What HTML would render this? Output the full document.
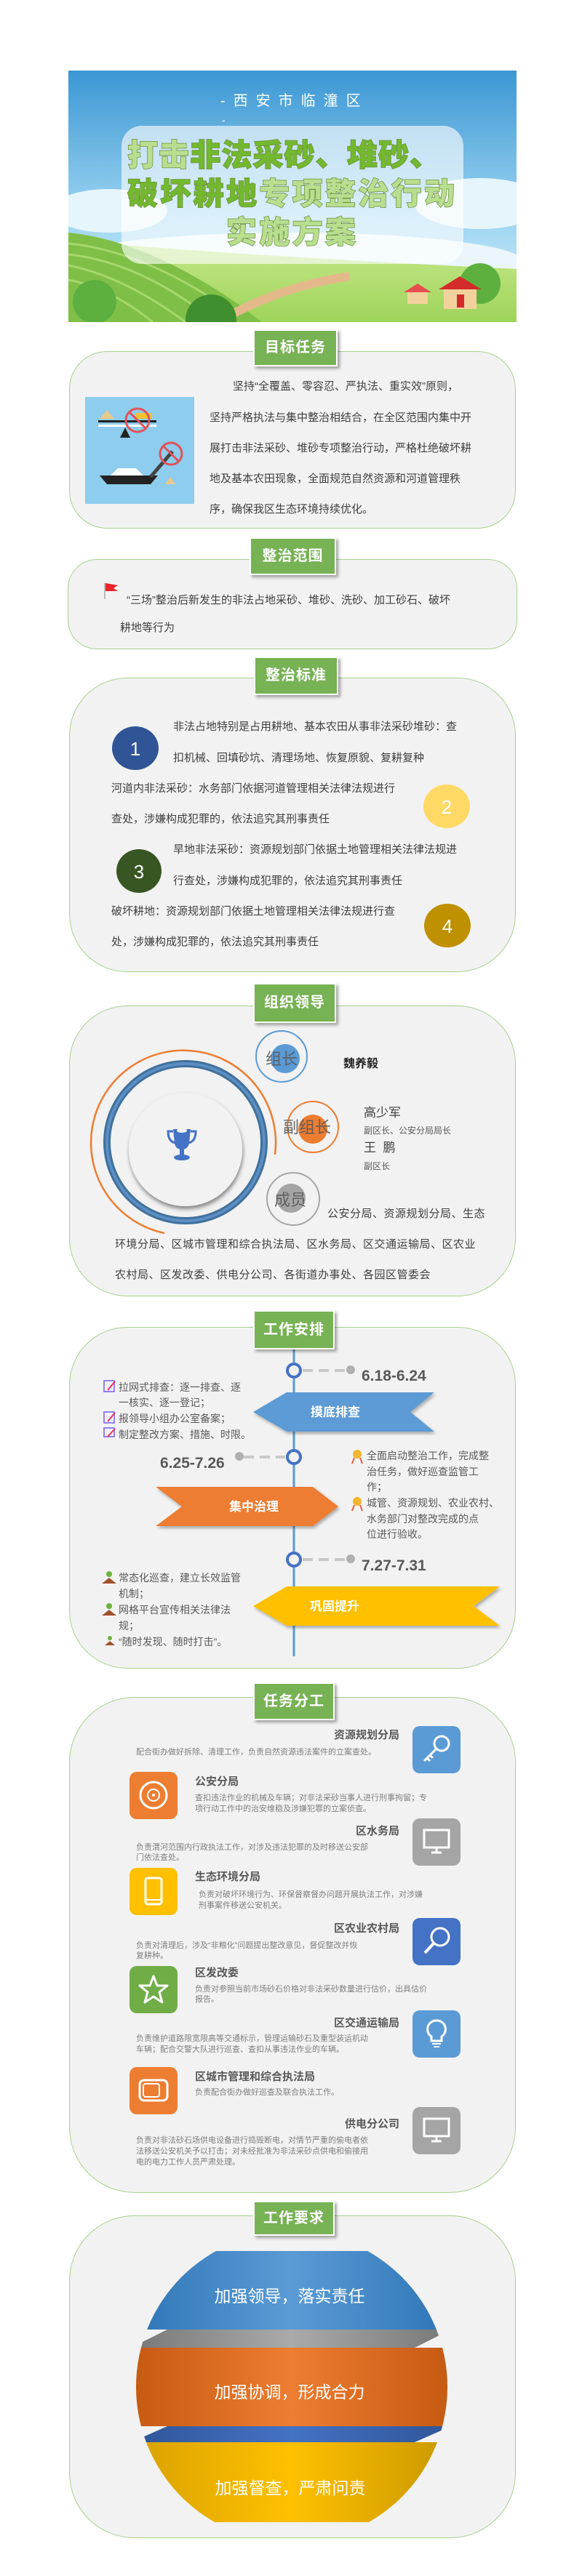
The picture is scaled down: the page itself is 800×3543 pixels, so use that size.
<!DOCTYPE html>
<html><head><meta charset="utf-8"><style>
*{margin:0;padding:0;box-sizing:border-box}
body{width:800px;height:3543px;background:#fff;position:relative;overflow:hidden;font-family:"Liberation Sans","Noto Sans CJK SC",sans-serif;color:#404040}
.a{position:absolute;white-space:nowrap}
.box{position:absolute;background:#f2f2f2;border:1.5px solid #a9d18e;border-radius:52px}
.hd{position:absolute;background:#77b255;border:2px solid #fff;box-shadow:3px 3px 4px rgba(0,0,0,.35);color:#fff;font-weight:bold;font-size:20px;text-align:center;letter-spacing:1px}
.t15{font-size:15px;line-height:20px}
.tl{font-size:14px;line-height:20px;color:#595959}
.tt{font-size:15px;font-weight:bold;color:#595959;line-height:20px}
.td{font-size:11px;color:#7f7f7f;line-height:14px}
.ic{position:absolute;width:66px;height:65px;border-radius:10px}
</style></head><body>

<!-- Banner -->
<svg class="a" style="left:94px;top:97px" width="616" height="346" viewBox="94 97 616 346">
<defs>
<linearGradient id="sky" x1="0" y1="0" x2="0" y2="1"><stop offset="0" stop-color="#3b97d4"/><stop offset=".6" stop-color="#9fd6f2"/><stop offset="1" stop-color="#d8f0fa"/></linearGradient>
<linearGradient id="gr" x1="0" y1="0" x2="0" y2="1"><stop offset="0" stop-color="#c5e88a"/><stop offset="1" stop-color="#9fd45a"/></linearGradient>
</defs>
<rect x="94" y="97" width="616" height="346" fill="url(#sky)"/>
<ellipse cx="150" cy="290" rx="80" ry="30" fill="#e6f5fb"/><ellipse cx="660" cy="280" rx="90" ry="35" fill="#e6f5fb"/>
<ellipse cx="400" cy="360" rx="320" ry="40" fill="#eaf6fb"/>
<path d="M94 330 Q300 350 710 370 L710 443 L94 443Z" fill="url(#gr)"/>
<path d="M94 320 Q200 330 330 420 L360 443 L94 443Z" fill="#7fbf48"/>
<g stroke="#a6d86c" stroke-width="3" fill="none"><path d="M94 335 Q200 345 320 430"/><path d="M94 350 Q190 360 290 438"/><path d="M94 365 Q170 380 255 443"/><path d="M94 385 Q150 395 210 443"/></g>
<path d="M300 443 Q380 395 480 380" stroke="#e3b98a" stroke-width="12" fill="none"/>
<circle cx="130" cy="415" r="30" fill="#5db040"/><circle cx="290" cy="440" r="35" fill="#3f8f2e"/>
<circle cx="660" cy="390" r="28" fill="#5db040"/>
<rect x="610" y="395" width="45" height="30" fill="#f2d29c"/><path d="M603 398 L632 380 L662 398Z" fill="#d42b2b"/><rect x="628" y="405" width="10" height="18" fill="#d42b2b"/>
<rect x="560" y="400" width="28" height="18" fill="#f2d29c"/><path d="M555 402 L574 390 L593 402Z" fill="#e85050"/>
<rect x="167" y="173" width="470" height="190" rx="28" fill="#fff" opacity=".62"/>
<text x="303" y="145" font-size="20" fill="#fff" letter-spacing="11" font-family="Liberation Sans,Noto Sans CJK SC,sans-serif">-西安市临潼区</text>
<text x="305" y="170" font-size="14" fill="#fff">-</text>
<g font-family="Noto Sans CJK SC,sans-serif" font-weight="900" font-size="42" stroke="#6f8f3f" stroke-width="1.5" paint-order="stroke">
<text x="175" y="228" textLength="430"><tspan fill="#b8de8f">打击</tspan><tspan fill="#73b82f">非法采砂、堆砂、</tspan></text>
<text x="175" y="281" textLength="450"><tspan fill="#73b82f">破坏耕地</tspan><tspan fill="#b8de8f">专项整治行动</tspan></text>
<text x="311" y="334" textLength="178" fill="#b8de8f">实施方案</text>
</g>
</svg>

<!-- 目标任务 -->
<div class="box" style="left:95px;top:483px;width:614px;height:244px"></div>
<div class="hd" style="left:348px;top:453px;width:116px;height:51px;line-height:47px">目标任务</div>
<svg class="a" style="left:117px;top:546px" width="150" height="147">
<rect width="150" height="147" fill="#8ecdee"/>
<path d="M20 30 L40 30 L30 18Z" fill="#e8c98a"/><rect x="18" y="32" width="80" height="3" fill="#222"/><rect x="18" y="38" width="80" height="3" fill="#fff"/>
<path d="M55 42 L48 56 L62 56Z" fill="#222"/><rect x="70" y="22" width="22" height="8" fill="#f2c230"/>
<circle cx="72" cy="32" r="16" fill="none" stroke="#e0525a" stroke-width="3"/><line x1="61" y1="21" x2="83" y2="43" stroke="#e0525a" stroke-width="3"/>
<path d="M20 108 L100 108 L90 120 L30 120Z" fill="#222"/><path d="M35 108 L45 98 L70 98 L80 108Z" fill="#fff"/>
<line x1="90" y1="110" x2="120" y2="75" stroke="#444" stroke-width="5"/>
<circle cx="118" cy="78" r="15" fill="none" stroke="#e0525a" stroke-width="3"/><line x1="108" y1="68" x2="128" y2="88" stroke="#e0525a" stroke-width="3"/>
<path d="M110 120 L124 120 L117 110Z" fill="#e8c98a"/>
</svg>
<div class="a t15" style="left:320px;top:522px">坚持“全覆盖、零容忍、严执法、重实效”原则，</div>
<div class="a t15" style="left:288px;top:565px">坚持严格执法与集中整治相结合，在全区范围内集中开</div>
<div class="a t15" style="left:288px;top:607px">展打击非法采砂、堆砂专项整治行动，严格杜绝破坏耕</div>
<div class="a t15" style="left:288px;top:649px">地及基本农田现象，全面规范自然资源和河道管理秩</div>
<div class="a t15" style="left:288px;top:691px">序，确保我区生态环境持续优化。</div>

<!-- 整治范围 -->
<div class="box" style="left:93px;top:769px;width:618px;height:124px;border-radius:40px"></div>
<div class="hd" style="left:343px;top:739px;width:119px;height:52px;line-height:48px">整治范围</div>
<svg class="a" style="left:140px;top:800px" width="26" height="26"><line x1="4" y1="2" x2="4" y2="24" stroke="#bbb" stroke-width="2"/><path d="M5 2 L22 5 L16 9 L22 13 L5 13Z" fill="#e8262b"/></svg>
<div class="a t15" style="left:174px;top:816px">“三场”整治后新发生的非法占地采砂、堆砂、洗砂、加工砂石、破坏</div>
<div class="a t15" style="left:165px;top:854px">耕地等行为</div>

<!-- 整治标准 -->
<div class="box" style="left:95px;top:932px;width:614px;height:405px;border-radius:80px"></div>
<div class="hd" style="left:349px;top:903px;width:116px;height:53px;line-height:49px">整治标准</div>
<svg class="a" style="left:0;top:0;overflow:visible" width="800" height="1400">
<g font-size="26" fill="#fff" text-anchor="middle" font-family="Liberation Sans,sans-serif">
<ellipse cx="186" cy="1029" rx="32" ry="30" fill="#2f5597"/><text x="186" y="1039">1</text>
<ellipse cx="614" cy="1109" rx="32" ry="30" fill="#ffd966"/><text x="614" y="1119">2</text>
<ellipse cx="191" cy="1198" rx="31" ry="30" fill="#375623"/><text x="191" y="1208">3</text>
<ellipse cx="615" cy="1273" rx="32" ry="30" fill="#bf9000"/><text x="615" y="1283">4</text>
</g></svg>
<div class="a t15" style="left:238px;top:990px">非法占地特别是占用耕地、基本农田从事非法采砂堆砂：查</div>
<div class="a t15" style="left:238px;top:1033px">扣机械、回填砂坑、清理场地、恢复原貌、复耕复种</div>
<div class="a t15" style="left:153px;top:1075px">河道内非法采砂：水务部门依据河道管理相关法律法规进行</div>
<div class="a t15" style="left:153px;top:1117px">查处，涉嫌构成犯罪的，依法追究其刑事责任</div>
<div class="a t15" style="left:238px;top:1159px">旱地非法采砂：资源规划部门依据土地管理相关法律法规进</div>
<div class="a t15" style="left:238px;top:1202px">行查处，涉嫌构成犯罪的，依法追究其刑事责任</div>
<div class="a t15" style="left:153px;top:1244px">破坏耕地：资源规划部门依据土地管理相关法律法规进行查</div>
<div class="a t15" style="left:153px;top:1286px">处，涉嫌构成犯罪的，依法追究其刑事责任</div>

<!-- 组织领导 -->
<div class="box" style="left:95px;top:1383px;width:614px;height:400px;border-radius:80px"></div>
<div class="hd" style="left:348px;top:1352px;width:114px;height:55px;line-height:51px">组织领导</div>
<svg class="a" style="left:0;top:1380px" width="800" height="400" viewBox="0 1380 800 400">
<defs><filter id="sh" x="-20%" y="-20%" width="140%" height="140%"><feDropShadow dx="1" dy="4" stdDeviation="3" flood-opacity=".45"/></filter></defs>
<path d="M378 1588 A127 127 0 1 0 226 1696" fill="none" stroke="#ed7d31" stroke-width="2.5"/>
<circle cx="255" cy="1571" r="108" fill="none" stroke="#41719c" stroke-width="10"/>
<circle cx="255" cy="1571" r="108" fill="none" stroke="#5b8fc4" stroke-width="4"/>
<circle cx="255" cy="1581" r="78" fill="#f2f2f2" filter="url(#sh)"/>
<g fill="#4472c4"><path d="M238 1553 h24 l-2 20 q-2 8 -10 8 q-8 0 -10 -8Z"/><rect x="247" y="1580" width="6" height="10"/><ellipse cx="250" cy="1592" rx="11" ry="4"/>
<path d="M238 1556 h-7 q0 14 10 16" fill="none" stroke="#4472c4" stroke-width="3"/><path d="M262 1556 h7 q0 14 -10 16" fill="none" stroke="#4472c4" stroke-width="3"/></g>
<ellipse cx="250" cy="1555" rx="7" ry="3" fill="#f2f2f2"/>
<circle cx="387" cy="1453" r="35" fill="none" stroke="#5b9bd5" stroke-width="2"/><circle cx="392" cy="1456" r="20" fill="#5b9bd5"/>
<circle cx="430" cy="1550" r="35" fill="none" stroke="#ed7d31" stroke-width="2"/><circle cx="430" cy="1553" r="20" fill="#ed7d31"/>
<circle cx="403" cy="1649" r="36" fill="none" stroke="#a5a5a5" stroke-width="2"/><circle cx="400" cy="1648" r="20" fill="#a5a5a5"/>
<g font-size="22" fill="#595959" fill-opacity=".9" font-family="Noto Sans CJK SC,sans-serif">
<text x="365" y="1464">组长</text><text x="389" y="1558">副组长</text><text x="377" y="1658">成员</text></g>
</svg>
<div class="a" style="left:472px;top:1454px;font-size:16px;font-weight:bold;color:#222;line-height:20px">魏养毅</div>
<div class="a" style="left:500px;top:1520px;font-size:17px;color:#404040;line-height:22px">高少军</div>
<div class="a" style="left:500px;top:1547px;font-size:12px;color:#595959;line-height:16px">副区长、公安分局局长</div>
<div class="a" style="left:500px;top:1568px;font-size:17px;color:#404040;line-height:22px">王&nbsp;&nbsp;鹏</div>
<div class="a" style="left:500px;top:1596px;font-size:12px;color:#595959;line-height:16px">副区长</div>
<div class="a t15" style="left:450px;top:1660px;letter-spacing:.5px">公安分局、资源规划分局、生态</div>
<div class="a t15" style="left:158px;top:1702px;letter-spacing:.5px">环境分局、区城市管理和综合执法局、区水务局、区交通运输局、区农业</div>
<div class="a t15" style="left:158px;top:1744px;letter-spacing:.5px">农村局、区发改委、供电分公司、各街道办事处、各园区管委会</div>

<!-- 工作安排 -->
<div class="box" style="left:95px;top:1825px;width:614px;height:470px;border-radius:80px"></div>
<svg class="a" style="left:0;top:1850px" width="800" height="440" viewBox="0 1850 800 440">
<defs><filter id="s2"><feDropShadow dx="2" dy="3" stdDeviation="2" flood-opacity=".3"/></filter></defs>
<line x1="404" y1="1850" x2="404" y2="2278" stroke="#5b9bd5" stroke-width="3"/>
<polygon points="348,1942 394,1915 597,1915 564,1942 597,1969 394,1969" fill="#5b9bd5" filter="url(#s2)"/>
<polygon points="214,2045 430,2045 465,2072 430,2099 214,2099 250,2072" fill="#ed7d31" filter="url(#s2)"/>
<polygon points="348,2209 394,2182 687,2182 651,2209 687,2236 394,2236" fill="#ffc000" filter="url(#s2)"/>
<g stroke="#c9c9c9" stroke-width="4" stroke-dasharray="14,8">
<line x1="416" y1="1885" x2="476" y2="1885"/><line x1="335" y1="2004" x2="392" y2="2004"/><line x1="416" y1="2145" x2="476" y2="2145"/></g>
<g fill="#b0b0b0"><circle cx="482" cy="1884" r="6"/><circle cx="329" cy="2003" r="6"/><circle cx="482" cy="2144" r="6"/></g>
<g fill="#f2f2f2" stroke="#4472c4" stroke-width="4"><circle cx="404" cy="1885" r="9"/><circle cx="404" cy="2004" r="9"/><circle cx="404" cy="2145" r="9"/></g>
<g font-size="17" font-weight="bold" fill="#fff" text-anchor="middle" font-family="Noto Sans CJK SC,sans-serif">
<text x="461" y="1948">摸底排查</text><text x="349" y="2078">集中治理</text><text x="460" y="2215">巩固提升</text></g>
<g font-size="21" font-weight="bold" fill="#595959" font-family="Liberation Sans,sans-serif">
<text x="497" y="1899">6.18-6.24</text><text x="220" y="2019">6.25-7.26</text><text x="497" y="2160">7.27-7.31</text></g>
<g fill="none" stroke="#7a5af0" stroke-width="1.5"><rect x="143" y="1899" width="14" height="15"/><rect x="143" y="1942" width="14" height="15"/><rect x="143" y="1964" width="14" height="12"/></g>
<g stroke="#e8336a" stroke-width="2"><line x1="148" y1="1912" x2="158" y2="1900"/><line x1="148" y1="1955" x2="158" y2="1943"/><line x1="148" y1="1976" x2="158" y2="1965"/></g>
<g><circle cx="491" cy="2000" r="6" fill="#f2b630"/><circle cx="491" cy="2065" r="6" fill="#f2b630"/><path d="M487 2005 l-3 8 M495 2005 l3 8 M487 2070 l-3 8 M495 2070 l3 8" stroke="#e06040" stroke-width="2"/></g>
<g><path d="M140 2178 h20 l-10 -8Z M140 2222 h20 l-10 -8Z M144 2263 h14 l-7 -6Z" fill="#a0522d"/><circle cx="150" cy="2165" r="4" fill="#6cb33e"/><circle cx="150" cy="2209" r="4" fill="#6cb33e"/><circle cx="151" cy="2253" r="3" fill="#6cb33e"/></g>
</svg>
<div class="hd" style="left:348px;top:1802px;width:112px;height:54px;line-height:50px">工作安排</div>
<div class="a tl" style="left:163px;top:1898px">拉网式排查：逐一排查、逐</div>
<div class="a tl" style="left:163px;top:1919px">一核实、逐一登记；</div>
<div class="a tl" style="left:163px;top:1941px">报领导小组办公室备案；</div>
<div class="a tl" style="left:163px;top:1963px">制定整改方案、措施、时限。</div>
<div class="a tl" style="left:504px;top:1992px">全面启动整治工作，完成整</div>
<div class="a tl" style="left:504px;top:2014px">治任务，做好巡查监管工</div>
<div class="a tl" style="left:504px;top:2035px">作；</div>
<div class="a tl" style="left:504px;top:2057px">城管、资源规划、农业农村、</div>
<div class="a tl" style="left:504px;top:2079px">水务部门对整改完成的点</div>
<div class="a tl" style="left:504px;top:2100px">位进行验收。</div>
<div class="a tl" style="left:163px;top:2160px">常态化巡查，建立长效监管</div>
<div class="a tl" style="left:163px;top:2182px">机制；</div>
<div class="a tl" style="left:163px;top:2204px">网格平台宣传相关法律法</div>
<div class="a tl" style="left:163px;top:2226px">规；</div>
<div class="a tl" style="left:163px;top:2248px">“随时发现、随时打击”。</div>

<!-- 任务分工 -->
<div class="box" style="left:95px;top:2334px;width:614px;height:682px;border-radius:90px"></div>
<div class="hd" style="left:348px;top:2314px;width:112px;height:52px;line-height:48px">任务分工</div>

<div class="ic" style="left:567px;top:2374px;background:#5b9bd5"><svg width="66" height="65"><circle cx="40" cy="24" r="10" fill="none" stroke="#fff" stroke-width="3"/><path d="M33 31 L16 48 M20 44 l4 4 M24 40 l4 4" stroke="#fff" stroke-width="3"/></svg></div>
<div class="a tt" style="left:349px;top:2377px;width:200px;text-align:right">资源规划分局</div>
<div class="a td" style="left:187px;top:2403px">配合街办做好拆除、清理工作，负责自然资源违法案件的立案查处。</div>

<div class="ic" style="left:178px;top:2437px;background:#ed7d31"><svg width="66" height="65"><circle cx="33" cy="32" r="18" fill="none" stroke="#fff" stroke-width="3"/><circle cx="33" cy="32" r="8" fill="none" stroke="#fff" stroke-width="2"/><circle cx="33" cy="32" r="2" fill="#fff"/></svg></div>
<div class="a tt" style="left:268px;top:2441px">公安分局</div>
<div class="a td" style="left:268px;top:2466px">查扣违法作业的机械及车辆；对非法采砂当事人进行刑事拘留；专</div>
<div class="a td" style="left:268px;top:2481px">项行动工作中的治安维稳及涉嫌犯罪的立案侦查。</div>

<div class="ic" style="left:567px;top:2501px;background:#a5a5a5"><svg width="66" height="65"><rect x="16" y="16" width="34" height="24" fill="none" stroke="#fff" stroke-width="3"/><path d="M26 47 h14 M33 40 v7" stroke="#fff" stroke-width="3"/></svg></div>
<div class="a tt" style="left:349px;top:2509px;width:200px;text-align:right">区水务局</div>
<div class="a td" style="left:187px;top:2534px">负责渭河范围内行政执法工作，对涉及违法犯罪的及时移送公安部</div>
<div class="a td" style="left:187px;top:2548px">门依法查处。</div>

<div class="ic" style="left:178px;top:2569px;background:#ffc000"><svg width="66" height="65"><rect x="22" y="14" width="22" height="36" rx="3" fill="none" stroke="#fff" stroke-width="3"/><line x1="22" y1="44" x2="44" y2="44" stroke="#fff" stroke-width="2"/></svg></div>
<div class="a tt" style="left:268px;top:2572px">生态环境分局</div>
<div class="a td" style="left:273px;top:2599px">负责对破坏环境行为、环保督察督办问题开展执法工作，对涉嫌</div>
<div class="a td" style="left:273px;top:2614px">刑事案件移送公安机关。</div>

<div class="ic" style="left:567px;top:2638px;background:#4472c4"><svg width="66" height="65"><circle cx="38" cy="26" r="12" fill="none" stroke="#fff" stroke-width="3"/><line x1="29" y1="35" x2="17" y2="48" stroke="#fff" stroke-width="4"/></svg></div>
<div class="a tt" style="left:349px;top:2643px;width:200px;text-align:right">区农业农村局</div>
<div class="a td" style="left:187px;top:2669px">负责对清理后，涉及“非粮化”问题提出整改意见，督促整改并恢</div>
<div class="a td" style="left:187px;top:2683px">复耕种。</div>

<div class="ic" style="left:178px;top:2704px;background:#70ad47"><svg width="66" height="65"><path d="M33 14 L38 27 L52 27 L41 36 L45 50 L33 42 L21 50 L25 36 L14 27 L28 27Z" fill="none" stroke="#fff" stroke-width="3" stroke-linejoin="round"/></svg></div>
<div class="a tt" style="left:268px;top:2704px">区发改委</div>
<div class="a td" style="left:268px;top:2729px">负责对参照当前市场砂石价格对非法采砂数量进行估价，出具估价</div>
<div class="a td" style="left:268px;top:2743px">报告。</div>

<div class="ic" style="left:567px;top:2765px;background:#5b9bd5"><svg width="66" height="65"><path d="M33 14 a12 12 0 0 1 7 22 v6 h-14 v-6 a12 12 0 0 1 7 -22Z" fill="none" stroke="#fff" stroke-width="3"/><path d="M27 46 h12 M29 50 h8" stroke="#fff" stroke-width="2"/></svg></div>
<div class="a tt" style="left:349px;top:2773px;width:200px;text-align:right">区交通运输局</div>
<div class="a td" style="left:187px;top:2797px">负责维护道路限宽限高等交通标示，管理运输砂石及重型装运机动</div>
<div class="a td" style="left:187px;top:2812px">车辆；配合交警大队进行巡查、查扣从事违法作业的车辆。</div>

<div class="ic" style="left:178px;top:2843px;background:#ed7d31"><svg width="66" height="65"><rect x="14" y="18" width="38" height="28" rx="6" fill="none" stroke="#fff" stroke-width="3"/><rect x="19" y="23" width="22" height="18" rx="3" fill="none" stroke="#fff" stroke-width="2"/></svg></div>
<div class="a tt" style="left:268px;top:2847px">区城市管理和综合执法局</div>
<div class="a td" style="left:268px;top:2871px">负责配合街办做好巡查及联合执法工作。</div>

<div class="ic" style="left:567px;top:2898px;background:#a5a5a5"><svg width="66" height="65"><rect x="16" y="16" width="34" height="24" fill="none" stroke="#fff" stroke-width="3"/><path d="M26 47 h14 M33 40 v7" stroke="#fff" stroke-width="3"/></svg></div>
<div class="a tt" style="left:349px;top:2912px;width:200px;text-align:right">供电分公司</div>
<div class="a td" style="left:187px;top:2937px">负责对非法砂石场供电设备进行捣毁断电，对情节严重的偷电者依</div>
<div class="a td" style="left:187px;top:2952px">法移送公安机关予以打击；对未经批准为非法采砂点供电和偷接用</div>
<div class="a td" style="left:187px;top:2967px">电的电力工作人员严肃处理。</div>

<!-- 工作要求 -->
<div class="box" style="left:95px;top:3047px;width:614px;height:444px;border-radius:90px"></div>
<div class="hd" style="left:348px;top:3027px;width:112px;height:48px;line-height:44px">工作要求</div>
<svg class="a" style="left:0;top:3080px" width="800" height="400" viewBox="0 3080 800 400">
<defs>
<clipPath id="ci"><circle cx="401" cy="3283" r="214"/></clipPath>
<linearGradient id="gb" x1="0" x2="1"><stop offset="0" stop-color="#2e75b6"/><stop offset=".5" stop-color="#5b9bd5"/><stop offset="1" stop-color="#2e75b6"/></linearGradient>
<linearGradient id="go" x1="0" x2="1"><stop offset="0" stop-color="#c55a11"/><stop offset=".5" stop-color="#ed7d31"/><stop offset="1" stop-color="#c55a11"/></linearGradient>
<linearGradient id="gy" x1="0" x2="1"><stop offset="0" stop-color="#d8a200"/><stop offset=".5" stop-color="#ffc000"/><stop offset="1" stop-color="#c99800"/></linearGradient>
<linearGradient id="gg" x1="0" x2="1"><stop offset="0" stop-color="#777"/><stop offset=".5" stop-color="#aaa"/><stop offset="1" stop-color="#777"/></linearGradient>
<linearGradient id="gn" x1="0" x2="1"><stop offset="0" stop-color="#2f5597"/><stop offset=".5" stop-color="#4472c4"/><stop offset="1" stop-color="#2f5597"/></linearGradient>
</defs>
<g clip-path="url(#ci)">
<rect x="180" y="3096" width="440" height="108" fill="url(#gb)"/>
<polygon points="180,3229 230,3204 620,3204 570,3229" fill="url(#gg)"/>
<rect x="180" y="3229" width="440" height="108" fill="url(#go)"/>
<polygon points="180,3359 230,3337 620,3337 570,3359" fill="url(#gn)"/>
<rect x="180" y="3359" width="440" height="110" fill="url(#gy)"/>
</g>
<g font-size="23" fill="#fff" text-anchor="middle" font-family="Noto Sans CJK SC,sans-serif">
<text x="398" y="3166">加强领导，落实责任</text>
<text x="398" y="3298">加强协调，形成合力</text>
<text x="399" y="3430">加强督查，严肃问责</text></g>
</svg>
</body></html>
